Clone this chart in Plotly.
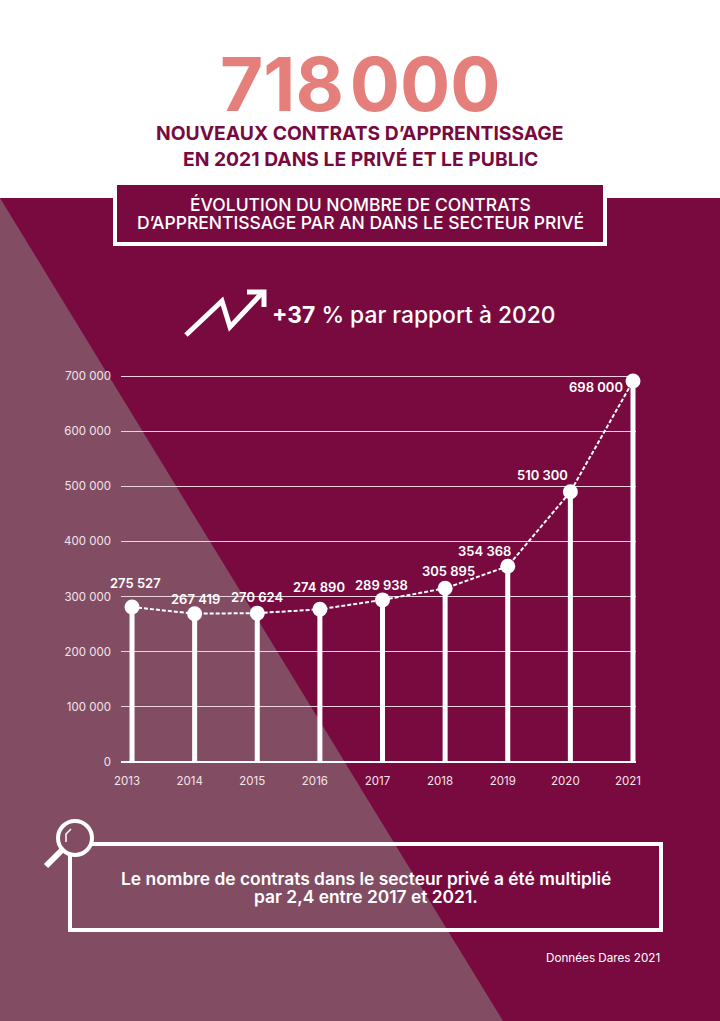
import plotly.graph_objects as go

# ---- data ----
years = [2013, 2014, 2015, 2016, 2017, 2018, 2019, 2020, 2021]
# heights as drawn in the picture (the printed labels below do not sit exactly on the scale)
contracts = [281000, 269000, 270000, 277000, 294000, 315000, 355000, 490000, 691000]
value_labels = ["275 527", "267 419", "270 624", "274 890", "289 938",
                "305 895", "354 368", "510 300", "698 000"]
y_ticks = [0, 100000, 200000, 300000, 400000, 500000, 600000, 700000]
y_tick_labels = ["0", "100 000", "200 000", "300 000", "400 000", "500 000", "600 000", "700 000"]

# label offsets from each point, in pixels
label_dx = [3, 1, 0, -1, -1, 3, -23, -28, -37]
label_dy = [24, 15, 16, 22, 15, 17, 15, 17, -6]

W, H = 720, 1021
WINE = "#790A40"
VEIL = "#824D62"
SALMON = "#E57F7B"
FONT = "Inter"


def px(x):
    return x / W


def py(y):
    return 1 - y / H


def path(points, close=False):
    d = "M " + " L ".join(f"{px(x):.5f},{py(y):.5f}" for x, y in points)
    return d + (" Z" if close else "")


def shape(points, color=None, fill=None, width=0, close=False):
    return dict(type="path", xref="paper", yref="paper", path=path(points, close),
                fillcolor=fill, line=dict(color=color, width=width), layer="below")


def text(x, y, s, size, color="white", weight=400, anchor="center"):
    return dict(xref="paper", yref="paper", x=px(x), y=py(y), text=s, showarrow=False,
                xanchor=anchor, yanchor="middle", borderpad=0,
                font=dict(family=FONT, size=size, color=color, weight=weight))


fig = go.Figure()

fig.add_trace(go.Bar(x=years, y=contracts, width=0.08, marker=dict(color="white", line_width=0)))
fig.add_trace(go.Scatter(x=years, y=contracts, mode="lines+markers", cliponaxis=False,
                         line=dict(color="white", width=2, dash="4px,2px"),
                         marker=dict(color="white", size=15)))

shapes = [
    # background
    dict(type="rect", xref="paper", yref="paper", x0=0, x1=1, y0=0, y1=py(198),
         fillcolor=WINE, line_width=0, layer="below"),
    shape([(0, 198), (503, 1021), (0, 1021)], fill=VEIL, close=True),
    # heading box
    dict(type="rect", xref="paper", yref="paper", x0=px(115), x1=px(605), y0=py(244), y1=py(183),
         fillcolor=WINE, line=dict(color="white", width=4), layer="below"),
    # trend arrow
    shape([(186, 335), (222, 301), (230, 327), (262, 293)], color="white", width=5),
    shape([(247, 292), (264, 292), (264, 307)], color="white", width=5),
    # note box, open behind the magnifier
    shape([(92, 844), (661, 844), (661, 930), (70, 930), (70, 856)], color="white", width=4),
    # magnifier
    dict(type="circle", xref="paper", yref="paper", x0=px(58), x1=px(92), y0=py(855), y1=py(821),
         line=dict(color="white", width=4), layer="below"),
    shape([(46, 866), (62, 850)], color="white", width=6),
    shape([(66, 842), (66, 834), (71, 829)], color="white", width=1.5),
]

annotations = [
    text(360, 84, "718\u200a000", 74.5, SALMON, 700),
    text(360, 133, "NOUVEAUX CONTRATS D’APPRENTISSAGE", 19.3, WINE, 700),
    text(360, 159, "EN 2021 DANS LE PRIVÉ ET LE PUBLIC", 19.3, WINE, 700),
    text(360, 205, "ÉVOLUTION DU NOMBRE DE CONTRATS", 17.5, "white", 500),
    text(360, 223, "D’APPRENTISSAGE PAR AN DANS LE SECTEUR PRIVÉ", 17.5, "white", 500),
    text(271, 314, "<b>+37</b> % par rapport à 2020", 22.8, "white", 500, "left"),
    text(366, 878, "Le nombre de contrats dans le secteur privé a été multiplié", 17.4, "white", 600),
    text(366, 896, "par 2,4 entre 2017 et 2021.", 17.4, "white", 600),
    text(661, 958, "Données Dares 2021", 11.7, "white", 400, "right"),
]
for year, value, label, dx, dy in zip(years, contracts, value_labels, label_dx, label_dy):
    annotations.append(dict(x=year, y=value, text=label, showarrow=False, xshift=dx, yshift=dy,
                            font=dict(family=FONT, size=13, color="white", weight=600)))

fig.update_layout(
    width=W, height=H,
    margin=dict(l=0, r=0, t=0, b=0, autoexpand=False),
    paper_bgcolor="white",
    plot_bgcolor="rgba(0,0,0,0)",
    showlegend=False,
    shapes=shapes,
    annotations=annotations,
    xaxis=dict(domain=[px(121), px(636)], range=[2012.824, 2021.048], tickvals=years,
               ticktext=[str(y) for y in years], ticklabelshift=-5, ticklabelstandoff=10,
               showgrid=False, zeroline=False, showline=False, ticks="", automargin=False,
               tickfont=dict(family=FONT, size=11.5, color="#F2E4EA")),
    # top of the range sits past 700 000 so that the top gridline is kept
    yaxis=dict(domain=[py(762), py(365)], range=[0, 720000], tickvals=y_ticks,
               ticktext=y_tick_labels, gridcolor="#EBD3DD", gridwidth=1,
               zeroline=True, zerolinecolor="white", zerolinewidth=1.5, automargin=False,
               showline=False, ticks="", ticklabelstandoff=9,
               tickfont=dict(family=FONT, size=11.5, color="#F2E4EA")),
)

fix_page = "document.body.style.margin = '0';"
fig.write_html("out.html", config={"displayModeBar": False}, post_script=fix_page)
